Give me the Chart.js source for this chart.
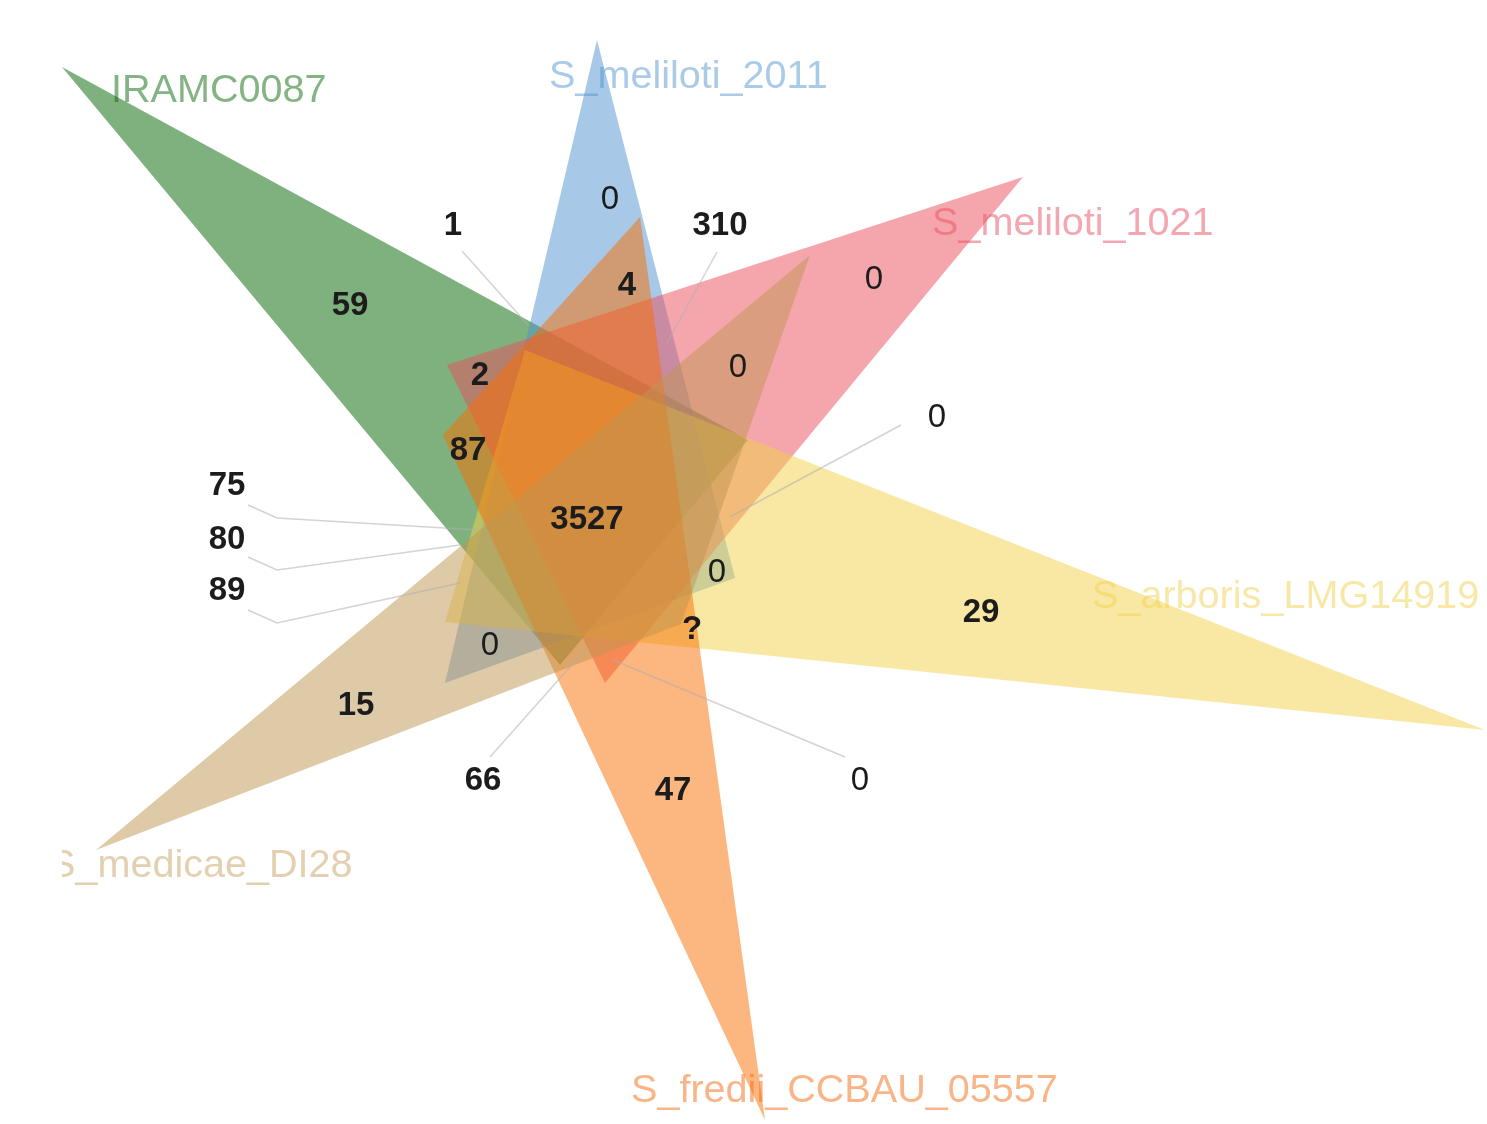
<!DOCTYPE html>
<html>
<head>
<meta charset="utf-8">
<title>Six-set Venn diagram</title>
<script src="https://cdn.jsdelivr.net/npm/chart.js@4/dist/chart.umd.min.js"></script>
<style>
  html, body { margin: 0; padding: 0; background: #ffffff; }
  #wrap { width: 1487px; height: 1124px; }
  canvas { display: block; }
</style>
</head>
<body>
<div id="wrap"><canvas id="venn" width="1487" height="1124"></canvas></div>
<script>
// ---- data ----
const setNames = ['IRAMC0087', 'S_meliloti_2011', 'S_meliloti_1021',
                  'S_arboris_LMG14919', 'S_fredii_CCBAU_05557', 'S_medicae_DI28'];

// gene counts shown in each region of the diagram
const regionCounts = ['59', '1', '0', '310', '4', '0', '2', '0', '87', '0',
                      '75', '80', '89', '3527', '0', '29', '?', '0', '15', '66', '47', '0'];

// ---- layout (axis units == canvas pixels) ----
// each set is drawn as a long triangle
const setShapes = [
  [[62, 67], [748, 440], [560, 665]],      // IRAMC0087
  [[597, 40], [445, 683], [735, 578]],     // S_meliloti_2011
  [[1023, 177], [447, 365], [605, 683]],   // S_meliloti_1021
  [[1485, 730], [525, 350], [445, 622]],   // S_arboris_LMG14919
  [[765, 1120], [640, 217], [443, 435]],   // S_fredii_CCBAU_05557
  [[96, 850], [810, 255], [681, 624]]      // S_medicae_DI28
];
const setFills = [
  'rgba(0, 100, 0, 0.5)',
  'rgba(80, 148, 208, 0.5)',
  'rgba(236, 78, 92, 0.5)',
  'rgba(242, 210, 72, 0.5)',
  'rgba(250, 110, 0, 0.5)',
  'rgba(192, 150, 82, 0.5)'
];
const nameColors = ['#84b484', '#a9cbe8', '#f4a7b0', '#f8e8a8', '#f9b587', '#e2d0b0'];
// left edge and baseline of each set name
const nameAnchors = [[111, 102], [549, 88], [932, 235], [1092, 608], [631, 1102], [49, 877]];

// centre of each count label
const countAnchors = [
  [350, 303], [453, 223], [610, 197], [720, 223], [627, 283], [874, 277],
  [480, 373], [738, 365], [468, 448], [937, 415], [227, 483], [227, 537],
  [227, 588], [587, 517], [717, 570], [981, 610], [692, 627], [490, 643],
  [356, 703], [483, 778], [673, 788], [860, 778]
];
// leader lines from an outside label into its (small) region, keyed by label index
const leaders = {
  1: [[462, 251], [528, 325]],
  3: [[717, 252], [667, 343]],
  9: [[901, 425], [730, 517]],
  10: [[248, 505], [277, 518], [478, 530]],
  11: [[248, 557], [277, 570], [460, 545]],
  12: [[248, 610], [277, 623], [460, 583]],
  19: [[490, 757], [585, 650]],
  21: [[845, 757], [613, 660]]
};

const FONT = '"Liberation Sans", Arial, Helvetica, sans-serif';

// the first set is painted first (lowest), the last one ends up on top
const datasets = setShapes.map((pts, i) => ({
  label: setNames[i],
  data: pts.concat([pts[0]]).map(p => ({ x: p[0], y: p[1] })),
  order: setShapes.length - i,
  showLine: true,
  fill: 'shape',
  backgroundColor: setFills[i],
  borderColor: 'rgba(0,0,0,0)',
  borderWidth: 0,
  pointRadius: 0,
  pointHoverRadius: 0,
  tension: 0,
  clip: false
}));

// set names sit underneath the triangles
const namePlugin = {
  id: 'setNames',
  beforeDatasetsDraw(chart) {
    const { ctx, scales: { x, y } } = chart;
    ctx.save();
    ctx.beginPath();
    ctx.rect(62, 0, chart.width - 62, chart.height);
    ctx.clip();
    ctx.font = '39.6px ' + FONT;
    ctx.textAlign = 'left';
    ctx.textBaseline = 'alphabetic';
    setNames.forEach((name, i) => {
      ctx.fillStyle = nameColors[i];
      ctx.fillText(name, x.getPixelForValue(nameAnchors[i][0]), y.getPixelForValue(nameAnchors[i][1]));
    });
    ctx.restore();
  }
};

// leader lines and region counts on top
const countPlugin = {
  id: 'regionCounts',
  afterDatasetsDraw(chart) {
    const { ctx, scales: { x, y } } = chart;
    ctx.save();
    ctx.strokeStyle = 'rgba(175, 175, 175, 0.55)';
    ctx.lineWidth = 1.5;
    Object.keys(leaders).forEach(k => {
      const pts = leaders[k];
      ctx.beginPath();
      pts.forEach((p, j) => {
        const px = x.getPixelForValue(p[0]), py = y.getPixelForValue(p[1]);
        if (j === 0) ctx.moveTo(px, py); else ctx.lineTo(px, py);
      });
      ctx.stroke();
    });
    ctx.textAlign = 'center';
    ctx.textBaseline = 'alphabetic';
    ctx.fillStyle = '#1c1c1c';
    regionCounts.forEach((txt, i) => {
      ctx.font = (txt === '0' ? '' : 'bold ') + '33px ' + FONT;
      ctx.fillText(txt, x.getPixelForValue(countAnchors[i][0]), y.getPixelForValue(countAnchors[i][1]) + 12);
    });
    ctx.restore();
  }
};

new Chart(document.getElementById('venn'), {
  type: 'scatter',
  data: { datasets },
  options: {
    responsive: false,
    animation: false,
    events: [],
    layout: { padding: 0 },
    scales: {
      x: { type: 'linear', min: 0, max: 1487, display: false },
      y: { type: 'linear', min: 0, max: 1124, reverse: true, display: false }
    },
    plugins: { legend: { display: false }, tooltip: { enabled: false } }
  },
  plugins: [namePlugin, countPlugin]
});
</script>
</body>
</html>
